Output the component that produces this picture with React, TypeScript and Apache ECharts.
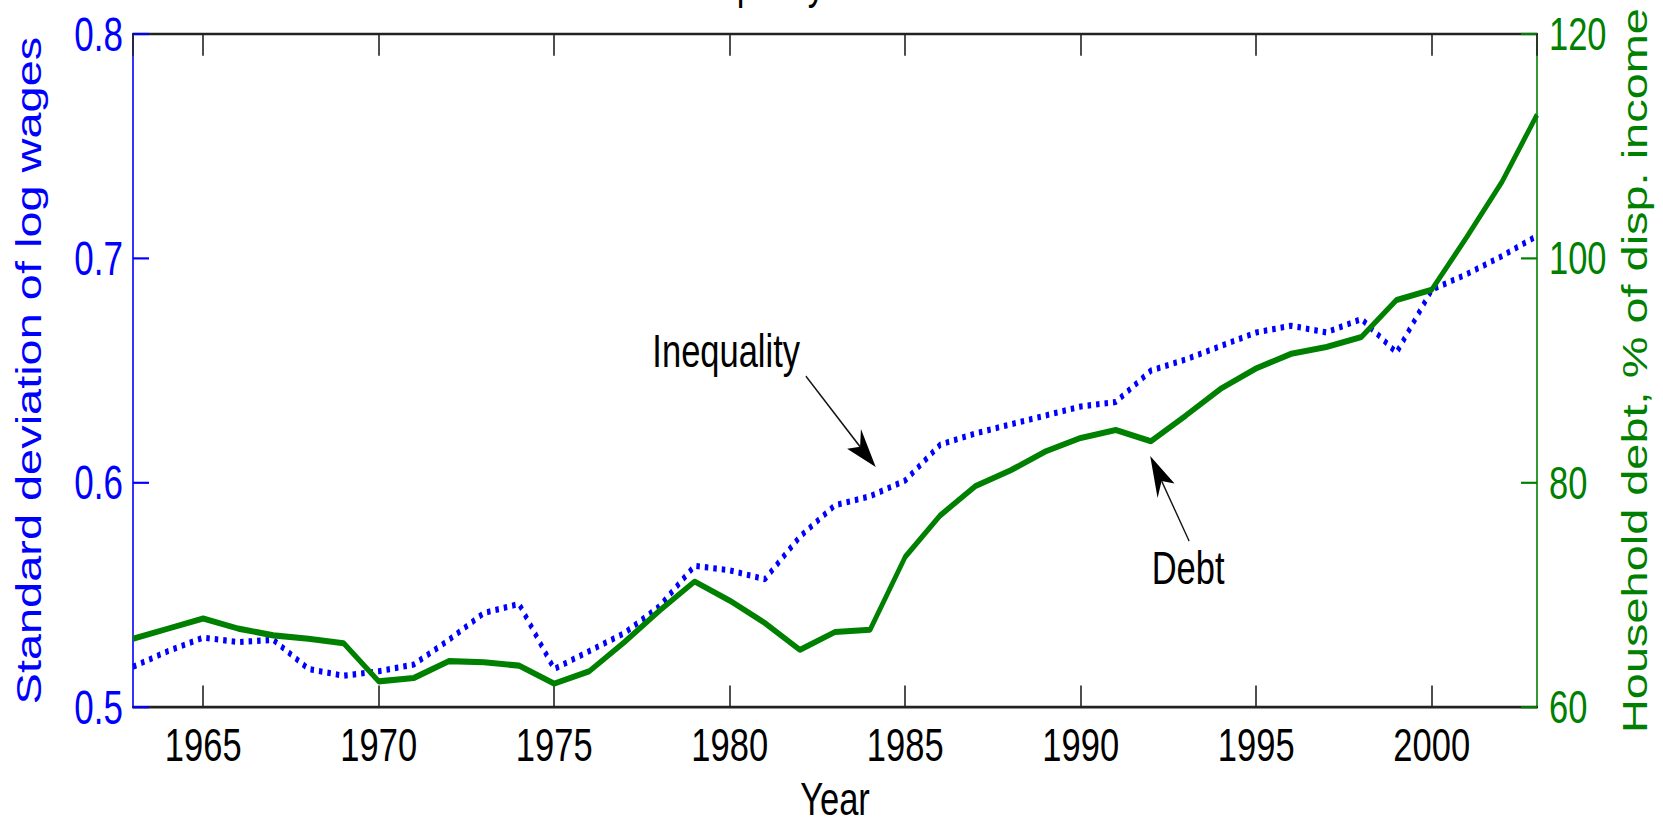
import React, { useEffect, useRef } from "react";
import * as echarts from "echarts";

// ---- data ----
const years = [
  1963, 1964, 1965, 1966, 1967, 1968, 1969, 1970, 1971, 1972, 1973, 1974, 1975,
  1976, 1977, 1978, 1979, 1980, 1981, 1982, 1983, 1984, 1985, 1986, 1987, 1988,
  1989, 1990, 1991, 1992, 1993, 1994, 1995, 1996, 1997, 1998, 1999, 2000, 2001,
  2002, 2003,
];
// Standard deviation of log wages (left axis, blue dotted)
const inequality = [
  0.518, 0.525, 0.531, 0.529, 0.53, 0.517, 0.514, 0.516, 0.519, 0.53, 0.542,
  0.546, 0.517, 0.525, 0.533, 0.545, 0.563, 0.561, 0.557, 0.576, 0.59, 0.594,
  0.601, 0.617, 0.622, 0.626, 0.63, 0.634, 0.636, 0.65, 0.655, 0.661, 0.667,
  0.67, 0.667, 0.673, 0.658, 0.686, 0.693, 0.701, 0.71,
];
// Household debt, % of disposable income (right axis, green solid)
const debt = [
  66.1, 67.0, 67.9, 67.0, 66.4, 66.1, 65.7, 62.3, 62.6, 64.1, 64.0, 63.7, 62.1,
  63.2, 65.8, 68.6, 71.2, 69.5, 67.5, 65.1, 66.7, 66.9, 73.4, 77.1, 79.7, 81.1,
  82.8, 84.0, 84.7, 83.7, 86.0, 88.4, 90.2, 91.5, 92.1, 93.0, 96.3, 97.2, 101.9,
  106.8, 112.8,
];
const leftRange = [0.5, 0.8];
const rightRange = [60, 120];
const yearRange = [1963, 2003];

// annotation anchors in data coordinates (year, left-axis value)
const ineqLabel = { text: "Inequality", at: [1979.9, 0.6589] };
const ineqArrow = { from: [1982.17, 0.6475], to: [1984.16, 0.607] };
const debtLabel = { text: "Debt", at: [1993.06, 0.5619] };
const debtArrow = { from: [1993.09, 0.574], to: [1991.98, 0.6119] };
const titleText = "Inequality and Debt";

const S = 1.36; // vertical stretch of the reference
const W = 1663;
const H = 824 / S;

export default function App() {
  const ref = useRef<HTMLDivElement>(null);
  useEffect(() => {
    const chart = echarts.init(ref.current as HTMLDivElement, null, {
      renderer: "svg",
    });
    const font = "'Liberation Sans', Arial, Helvetica, sans-serif";
    const blue = "#0000ff";
    const green = "#008000";
    const fs = 34.5;

    const xBase = {
      type: "value",
      min: yearRange[0],
      max: yearRange[1],
      splitNumber: 8,
      minInterval: 5,
      maxInterval: 5,
      splitLine: { show: false },
      axisLine: { show: true, onZero: false, lineStyle: { color: "#222", width: 2 } },
      axisTick: { show: true, inside: true, length: 16, lineStyle: { color: "#222", width: 1.6 } },
    };

    chart.setOption({
      animation: false,
      backgroundColor: "#fff",
      grid: {
        left: 133,
        right: 126,
        top: 34 / S,
        bottom: 117 / S,
        containLabel: false,
        outerBoundsMode: "none",
      },
      xAxis: [
        {
          ...xBase,
          position: "bottom",
          axisLabel: {
            color: "#000",
            fontSize: fs,
            fontFamily: font,
            margin: 10,
            showMinLabel: false,
            showMaxLabel: false,
            formatter: (v: number) => String(v),
          },
          name: "Year",
          nameLocation: "middle",
          nameGap: 50,
          nameTextStyle: { color: "#000", fontSize: fs, fontFamily: font },
        },
        {
          ...xBase,
          position: "top",
          axisLabel: { show: false },
        },
      ],
      yAxis: [
        {
          type: "value",
          position: "left",
          min: leftRange[0],
          max: leftRange[1],
          interval: 0.1,
          splitLine: { show: false },
          axisLine: { show: true, lineStyle: { color: blue, width: 1.6 } },
          axisTick: { show: true, inside: true, length: 16, lineStyle: { color: blue, width: 1.6 } },
          axisLabel: {
            color: blue,
            fontSize: 35,
            fontFamily: font,
            margin: 10,
            formatter: (v: number) => v.toFixed(1),
          },
          name: "Standard deviation of log wages",
          nameLocation: "middle",
          nameRotate: 90,
          nameGap: 86,
          nameTextStyle: { color: blue, fontSize: fs, fontFamily: font },
        },
        {
          type: "value",
          position: "right",
          min: rightRange[0],
          max: rightRange[1],
          interval: 20,
          splitLine: { show: false },
          axisLine: { show: true, lineStyle: { color: green, width: 1.6 } },
          axisTick: { show: true, inside: true, length: 16, lineStyle: { color: green, width: 1.6 } },
          axisLabel: {
            color: green,
            fontSize: fs,
            fontFamily: font,
            margin: 12,
            formatter: (v: number) => String(v),
          },
          name: "Household debt, % of disp. income",
          nameLocation: "middle",
          nameRotate: 90,
          nameGap: 75,
          nameTextStyle: { color: green, fontSize: fs, fontFamily: font },
        },
      ],
      series: [
        {
          name: "Inequality",
          type: "line",
          xAxisIndex: 0,
          yAxisIndex: 0,
          symbol: "none",
          data: years.map((y, i) => [y, inequality[i]]),
          lineStyle: { color: blue, width: 4.5, type: [3.5, 5], cap: "butt" },
        },
        {
          name: "Debt",
          type: "line",
          xAxisIndex: 0,
          yAxisIndex: 1,
          symbol: "none",
          data: years.map((y, i) => [y, debt[i]]),
          lineStyle: { color: green, width: 4.5 },
        },
      ],
    });

    const px = (p: number[]) =>
      chart.convertToPixel({ seriesIndex: 0 }, p) as number[];

    const arrow = (from: number[], to: number[]) => {
      const a = px(from);
      const t = px(to);
      const dx = t[0] - a[0];
      const dy = t[1] - a[1];
      const len = Math.hypot(dx, dy);
      const d = [dx / len, dy / len];
      const n = [-d[1], d[0]];
      const L = 30;
      const w = 10;
      const back = [t[0] - d[0] * L, t[1] - d[1] * L];
      const notch = [t[0] - d[0] * L * 0.72, t[1] - d[1] * L * 0.72];
      return [
        {
          type: "line",
          shape: { x1: a[0], y1: a[1], x2: notch[0], y2: notch[1] },
          style: { stroke: "#111", lineWidth: 1.3 },
          silent: true,
        },
        {
          type: "polygon",
          shape: {
            points: [
              t,
              [back[0] + n[0] * w, back[1] + n[1] * w],
              notch,
              [back[0] - n[0] * w, back[1] - n[1] * w],
            ],
          },
          style: { fill: "#000" },
          silent: true,
        },
      ];
    };

    const txt = (label: { text: string; at: number[] }) => {
      const p = px(label.at);
      return {
        type: "text",
        x: p[0],
        y: p[1],
        silent: true,
        style: {
          text: label.text,
          fill: "#000",
          fontSize: fs,
          fontFamily: font,
          align: "center",
          verticalAlign: "middle",
        },
      };
    };

    const gridMid = (px([yearRange[0], leftRange[0]])[0] + px([yearRange[1], leftRange[0]])[0]) / 2;

    chart.setOption({
      graphic: [
        txt(ineqLabel),
        ...arrow(ineqArrow.from, ineqArrow.to),
        txt(debtLabel),
        ...arrow(debtArrow.from, debtArrow.to),
        {
          type: "text",
          x: gridMid - 9,
          y: -13.5,
          silent: true,
          style: {
            text: titleText,
            fill: "#000",
            fontSize: fs,
            fontFamily: font,
            align: "center",
            verticalAlign: "middle",
          },
        },
      ],
    });

    return () => chart.dispose();
  }, []);

  return (
    <div
      ref={ref}
      style={{
        position: "absolute",
        left: 0,
        top: 0,
        width: W,
        height: H,
        transform: `scaleY(${S})`,
        transformOrigin: "0 0",
        background: "#fff",
      }}
    />
  );
}
